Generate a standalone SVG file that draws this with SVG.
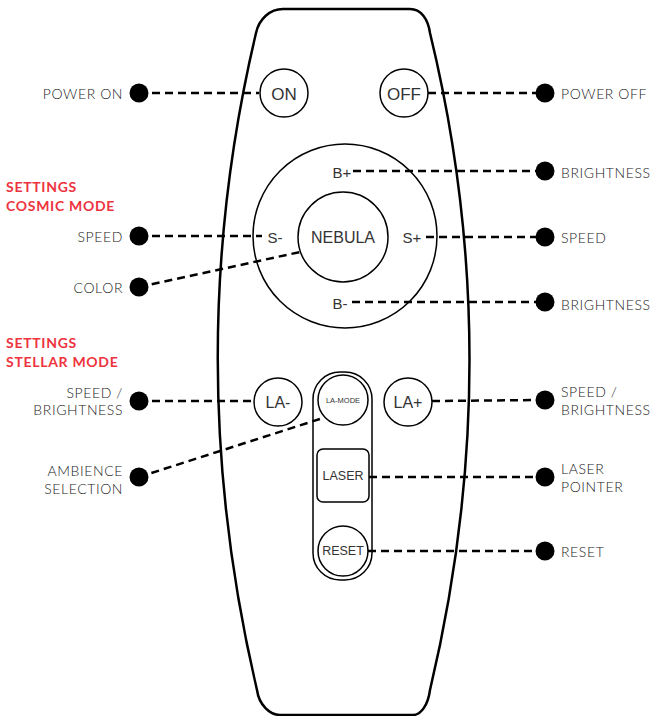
<svg xmlns="http://www.w3.org/2000/svg" width="652" height="716" viewBox="0 0 652 716">
<style>
.body{fill:#fff;stroke:#000;stroke-width:2.5}
.btn{fill:#fff;stroke:#000;stroke-width:1.5}
.bt{font-family:"Liberation Sans",Arial,sans-serif;fill:#333;text-anchor:middle;dominant-baseline:central}
.lbl{font-family:Lato,"Liberation Sans",sans-serif;font-weight:300;font-size:14px;fill:#222;letter-spacing:0.6px;dominant-baseline:central}
.l{text-anchor:end}
.red{font-family:Lato,"Liberation Sans",sans-serif;font-weight:700;font-size:14px;fill:#ee3340;letter-spacing:0.7px;dominant-baseline:central}
.c line{stroke:#000;stroke-width:2.5;stroke-dasharray:8 5}
.dot{fill:#000}
</style>
<g id="remote">
<path class="body" d="M283,9 L410,9 C421,9 428,19 430,33 Q509,358 430,690 C428,705 421,715 413,715 L280,715 C270,715 259,705 257,690 Q179,358 256,33 C259,19 270,9 283,9 Z"/>
</g>
<g id="ring"><circle class="btn" cx="345" cy="236" r="92" style="fill:none"/>
<text class="bt" x="342" y="172" font-size="15">B+</text>
<text class="bt" x="275" y="237" font-size="15">S-</text>
<text class="bt" x="412" y="237" font-size="15">S+</text>
<text class="bt" x="340" y="303" font-size="15">B-</text>
</g>
<g class="c" id="connectors">
<line x1="139" y1="93" x2="259" y2="93"/>
<line x1="428" y1="93" x2="545" y2="93"/>
<line x1="353" y1="171" x2="545" y2="171"/>
<line x1="139" y1="236" x2="262" y2="236"/>
<line x1="426" y1="237" x2="545" y2="237"/>
<line x1="139" y1="287" x2="300" y2="252"/>
<line x1="352" y1="302" x2="545" y2="302"/>
<line x1="139" y1="401" x2="254" y2="401"/>
<line x1="432" y1="401" x2="545" y2="400"/>
<line x1="139" y1="477" x2="323" y2="418"/>
<line x1="369" y1="477" x2="545" y2="477"/>
<line x1="368" y1="551" x2="545" y2="551"/>
</g>
<g id="btn-on"><circle class="btn" cx="284" cy="93" r="24"/><text class="bt" x="284" y="94" font-size="17">ON</text></g>
<g id="btn-off"><circle class="btn" cx="404" cy="93" r="24"/><text class="bt" x="404" y="94" font-size="17">OFF</text></g>
<g id="btn-nebula"><circle class="btn" cx="343" cy="237" r="45"/><text class="bt" x="343" y="237" font-size="16">NEBULA</text></g>
<g id="btn-la-minus"><circle class="btn" cx="278" cy="402" r="24"/><text class="bt" x="278" y="402" font-size="16">LA-</text></g>
<g id="btn-la-plus"><circle class="btn" cx="408" cy="402" r="24"/><text class="bt" x="408" y="402" font-size="16">LA+</text></g>
<g id="pill"><rect class="btn" x="313" y="372" width="59" height="208" rx="27" style="fill:none"/></g>
<g id="btn-la-mode"><circle class="btn" cx="343" cy="400" r="25"/><text class="bt" x="343" y="400" font-size="7.5">LA-MODE</text></g>
<g id="btn-laser"><rect class="btn" x="317" y="449" width="52" height="53" rx="6"/><text class="bt" x="343" y="476" font-size="12.5">LASER</text></g>
<g id="btn-reset"><circle class="btn" cx="343" cy="551" r="25"/><text class="bt" x="343" y="551" font-size="12.5">RESET</text></g>
<g id="dots">
<circle class="dot" cx="139" cy="93" r="9.5"/>
<circle class="dot" cx="139" cy="236" r="9.5"/>
<circle class="dot" cx="139" cy="287" r="9.5"/>
<circle class="dot" cx="139" cy="401" r="9.5"/>
<circle class="dot" cx="139" cy="477" r="9.5"/>
<circle class="dot" cx="545" cy="93" r="9.5"/>
<circle class="dot" cx="545" cy="171" r="9.5"/>
<circle class="dot" cx="545" cy="237" r="9.5"/>
<circle class="dot" cx="545" cy="302" r="9.5"/>
<circle class="dot" cx="545" cy="400" r="9.5"/>
<circle class="dot" cx="545" cy="477" r="9.5"/>
<circle class="dot" cx="545" cy="551" r="9.5"/>
</g>
<g id="labels">
<text class="lbl l" x="123" y="93">POWER ON</text>
<text class="lbl l" x="123" y="236">SPEED</text>
<text class="lbl l" x="123" y="287">COLOR</text>
<text class="lbl l" x="123" y="392">SPEED  /</text>
<text class="lbl l" x="123" y="409">BRIGHTNESS</text>
<text class="lbl l" x="123" y="470">AMBIENCE</text>
<text class="lbl l" x="123" y="488">SELECTION</text>
<text class="lbl" x="561" y="93">POWER OFF</text>
<text class="lbl" x="561" y="172">BRIGHTNESS</text>
<text class="lbl" x="561" y="237">SPEED</text>
<text class="lbl" x="561" y="304">BRIGHTNESS</text>
<text class="lbl" x="561" y="391">SPEED  /</text>
<text class="lbl" x="561" y="409">BRIGHTNESS</text>
<text class="lbl" x="561" y="468">LASER</text>
<text class="lbl" x="561" y="486">POINTER</text>
<text class="lbl" x="561" y="551">RESET</text>
<text class="red" x="6" y="186">SETTINGS</text>
<text class="red" x="6" y="205">COSMIC MODE</text>
<text class="red" x="6" y="342">SETTINGS</text>
<text class="red" x="6" y="361">STELLAR MODE</text>
</g>
</svg>
